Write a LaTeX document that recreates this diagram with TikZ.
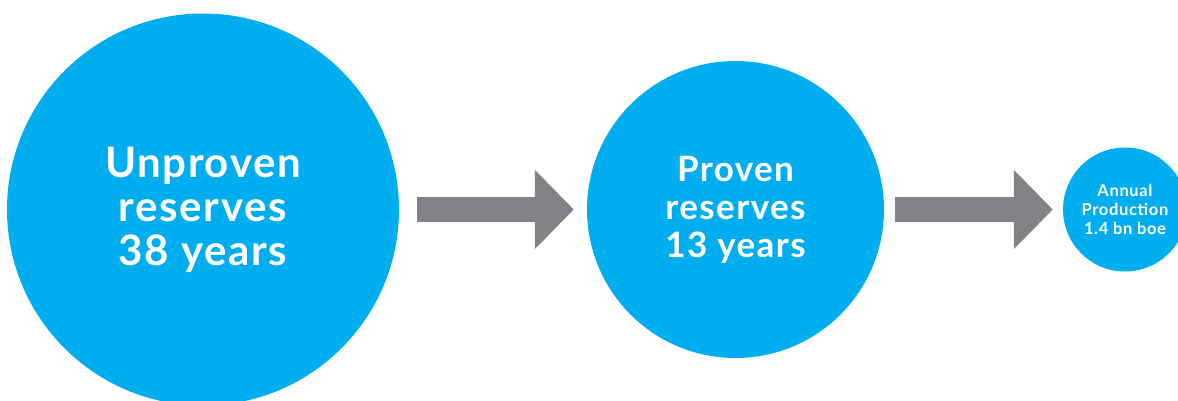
\documentclass[tikz,border=0pt]{standalone}
\usepackage{fontspec}
\setmainfont{Lato}[LetterSpace=4]
\usetikzlibrary{arrows.meta}
\definecolor{resblue}{HTML}{00AEEF}
\definecolor{flowgray}{HTML}{808285}
\tikzset{
  reserve/.style={circle,fill=resblue,text=white,inner sep=0pt,align=center},
  flow/.style={line width=25pt,draw=flowgray,-{Triangle[length=39pt,width=77pt,fill=flowgray]}}
}
\begin{document}
\begin{tikzpicture}[x=1pt,y=-1pt]
  \useasboundingbox (0,0) rectangle (1178,400);
  \node[reserve,minimum size=392pt,font=\bfseries\fontsize{42}{44}\selectfont] (unproven) at (203,209.5) {Unproven\\reserves\\38 years};
  \node[reserve,minimum size=297pt,font=\bfseries\fontsize{35}{38}\selectfont] (proven) at (735.5,209.5) {Proven\\reserves\\13 years};
  \node[reserve,minimum size=124pt,font=\bfseries\fontsize{16.5}{19}\selectfont] (annual) at (1125,209.5) {Annual\\Production\\1.4 bn boe};
  \draw[flow,shorten <=18pt,shorten >=13pt] (unproven) -- (proven);
  \draw[flow,shorten <=11pt,shorten >=10pt] (proven) -- (annual);
\end{tikzpicture}
\end{document}
